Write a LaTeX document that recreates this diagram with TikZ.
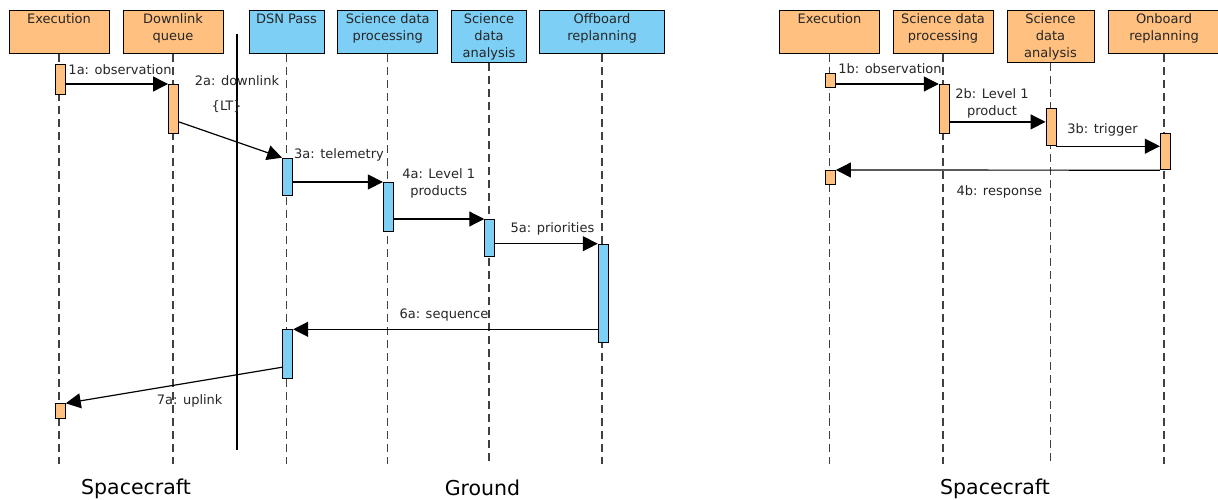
\documentclass[tikz,border=0pt]{standalone}
\usepackage{fontspec}
\setmainfont{DejaVu Sans}
\usetikzlibrary{arrows.meta}
\definecolor{scorange}{RGB}{255,192,128}
\definecolor{gdblue}{RGB}{125,207,245}

\begin{document}
\begin{tikzpicture}[x=1pt,y=-1pt,line width=1pt,
	every node/.style={font=\fontsize{13}{16.7}\selectfont,text=black!85},
	head/.style={draw,anchor=north,minimum height=43,inner sep=0pt},
	headtxt/.style={anchor=north,align=center,inner sep=3.5pt},
	life/.style={dash pattern=on 8pt off 5pt,draw=black!75,line width=1.2pt},
	bar/.style={draw,anchor=north,minimum width=10,inner sep=0pt,line width=0.9pt},
	msg/.style={-{Triangle[length=15pt,width=15pt]},line width=1.2pt},
	lbl/.style={inner sep=0pt,align=center},
	side/.style={font=\fontsize{20.5}{24}\selectfont,text=black}]
	\useasboundingbox (0,0) rectangle (1218,499);

	% lifeline heads, ground loop
	\node[head,fill=scorange,minimum width=100,label={[headtxt]90:Execution}] (exeL) at (59,10) {};
	\node[head,fill=scorange,minimum width=100,label={[headtxt]90:{Downlink\\queue}}] (dq) at (173,10) {};
	\node[head,fill=gdblue,minimum width=75,label={[headtxt]90:DSN Pass}] (dsn) at (286.5,10) {};
	\node[head,fill=gdblue,minimum width=100,label={[headtxt]90:{Science data\\processing}}] (sdpL) at (387.7,10) {};
	\node[head,fill=gdblue,minimum width=75,minimum height=52,label={[headtxt]90:{Science\\data\\analysis}}] (sdaL) at (489,10) {};
	\node[head,fill=gdblue,minimum width=125,label={[headtxt]90:{Offboard\\replanning}}] (off) at (602,10) {};
	% lifeline heads, onboard loop
	\node[head,fill=scorange,minimum width=100,label={[headtxt]90:Execution}] (exeR) at (829.5,10) {};
	\node[head,fill=scorange,minimum width=100,label={[headtxt]90:{Science data\\processing}}] (sdpR) at (943,10) {};
	\node[head,fill=scorange,minimum width=87,minimum height=52,label={[headtxt]90:{Science\\data\\analysis}}] (sdaR) at (1050.5,10) {};
	\node[head,fill=scorange,minimum width=112,label={[headtxt]90:{Onboard\\replanning}}] (onb) at (1164,10) {};

	\coordinate (end) at (0,464);
	\foreach \h in {exeL,dq,dsn,sdpL,sdaL,off,exeR,sdpR,sdaR,onb}
		\draw[life] (\h.south) -- (\h.south |- end);

	\draw[line width=2pt] (237,34) -- (237,450);

	% activations
	\node[bar,fill=scorange,minimum height=30] (ex1) at (60.2,64) {};
	\node[bar,fill=scorange,minimum height=49] (dq1) at (173.5,84) {};
	\node[bar,fill=gdblue,minimum height=37] (dsn1) at (287.5,157.7) {};
	\node[bar,fill=gdblue,minimum height=49] (sdp1) at (388.3,182) {};
	\node[bar,fill=gdblue,minimum height=37] (sda1) at (489.7,219) {};
	\node[bar,fill=gdblue,minimum height=98] (off1) at (603.2,243.7) {};
	\node[bar,fill=gdblue,minimum height=49] (dsn2) at (287.7,329.3) {};
	\node[bar,fill=scorange,minimum height=15] (ex2) at (60.3,403.3) {};

	\node[bar,fill=scorange,minimum height=14] (exR1) at (830.5,73.3) {};
	\node[bar,fill=scorange,minimum height=49] (sdpR1) at (944.2,84) {};
	\node[bar,fill=scorange,minimum height=37] (sdaR1) at (1051,108.3) {};
	\node[bar,fill=scorange,minimum height=36] (onb1) at (1165.3,133.3) {};
	\node[bar,fill=scorange,minimum height=14] (exR2) at (830.5,170) {};

	% messages
	\draw[msg] (ex1.east |- dq1.north west) -- (dq1.north west);
	\draw[msg] ([yshift=12pt]dq1.south east) -- (dsn1.north west);
	\draw[msg] (dsn1.east |- sdp1.north west) -- (sdp1.north west);
	\draw[msg] (sdp1.east |- sda1.north west) -- (sda1.north west);
	\draw[msg] (sda1.east |- off1.north west) -- (off1.north west);
	\draw[msg] (off1.west |- dsn2.north east) -- (dsn2.north east);
	\draw[msg] ([yshift=12pt]dsn2.south west) -- (ex2.north east);

	\draw[msg] (exR1.east |- sdpR1.north west) -- (sdpR1.north west);
	\draw[msg] ([yshift=12pt]sdpR1.south east) coordinate (p2b) -- (sdaR1.west |- p2b);
	\draw[msg] (sdaR1.south east) -- (onb1.west |- sdaR1.south east);
	\draw[msg] (onb1.south west) -- (exR2.north east);

	% message labels
	\node[lbl] (l1a) at (120,69.5) {1a: observation};
	\node[lbl] (l2a) at (237,81) {2a: downlink};
	\node[lbl] (lt) at (226.7,106.3) {\{LT\}};
	\node[lbl] (l3a) at (339,154.7) {3a: telemetry};
	\node[lbl] (l4a) at (438.7,183.3) {4a: Level 1\\products};
	\node[lbl] (l5a) at (552.5,229) {5a: priorities};
	\node[lbl] (l6a) at (444,315) {6a: sequence};
	\node[lbl] (l7a) at (189.7,400.5) {7a: uplink};

	\node[lbl] (l1b) at (890,69) {1b: observation};
	\node[lbl] (l2b) at (992,103.3) {2b: Level 1\\product};
	\node[lbl] (l3b) at (1102.5,129.5) {3b: trigger};
	\node[lbl] (l4b) at (999.3,192) {4b: response};

	\node[side] (scL) at (136,488.5) {Spacecraft};
	\node[side] (gnd) at (482.5,487.5) {Ground};
	\node[side] (scR) at (995,488.5) {Spacecraft};
\end{tikzpicture}
\end{document}
